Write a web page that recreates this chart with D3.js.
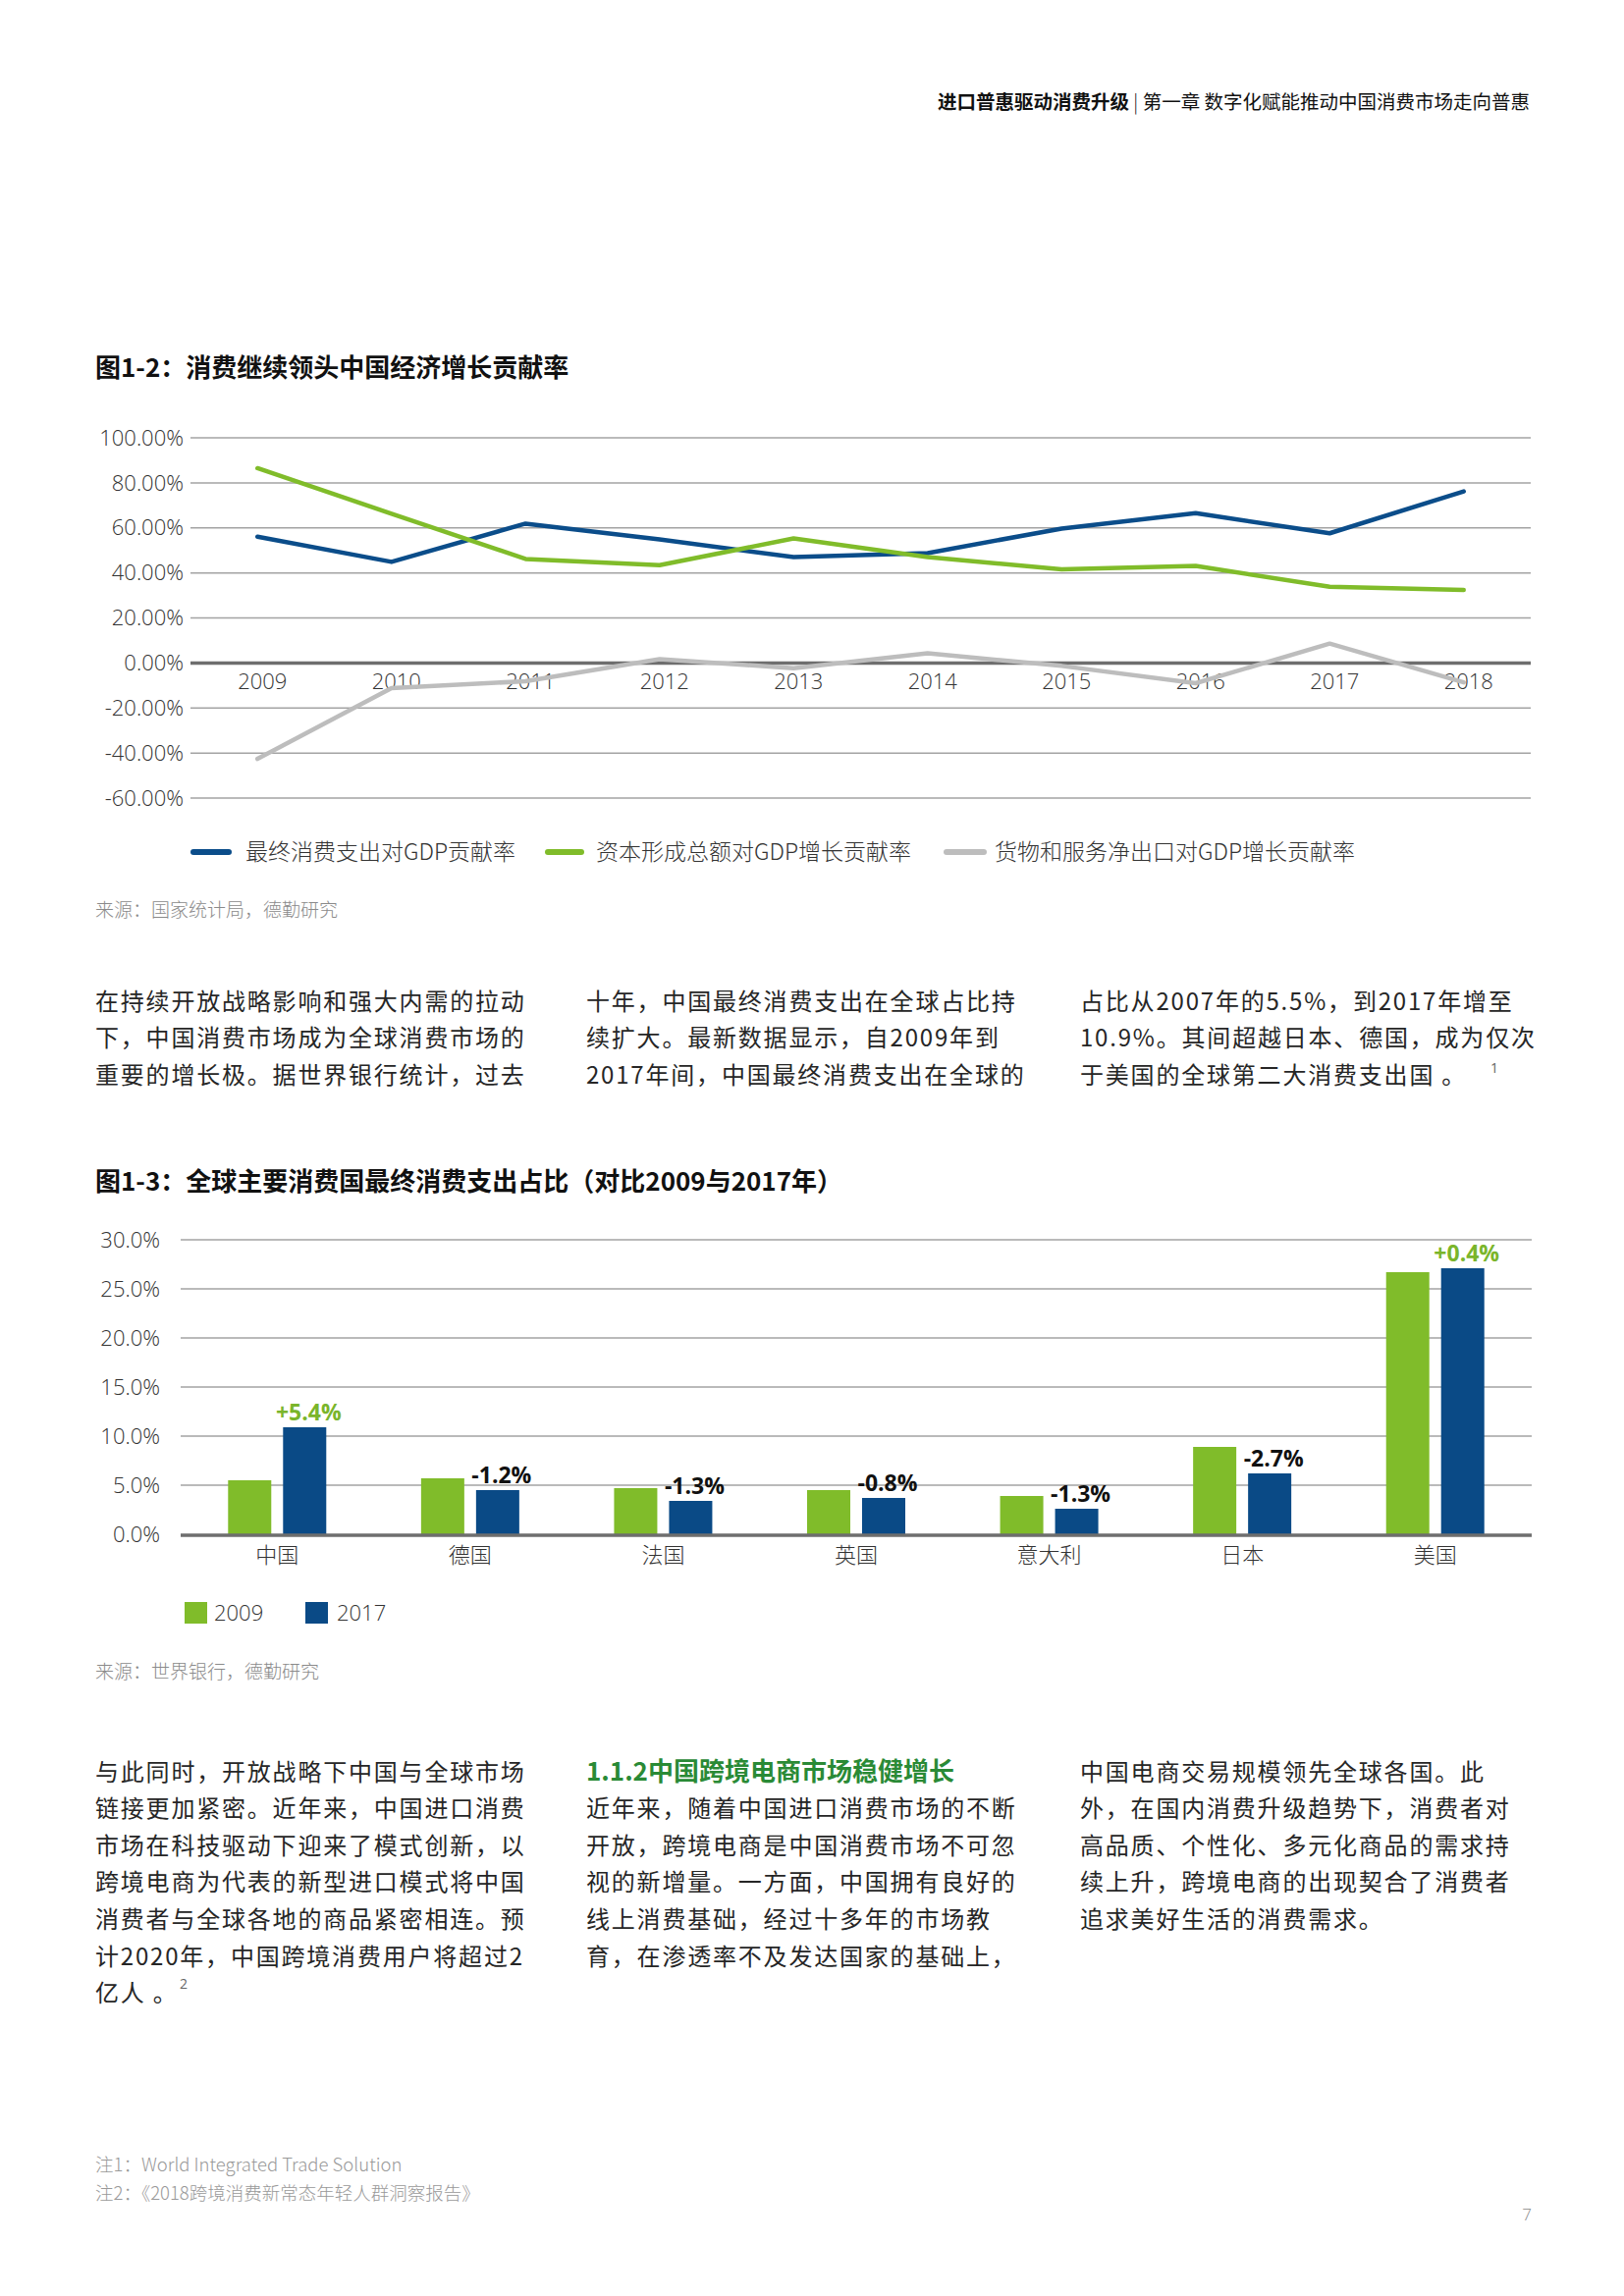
<!DOCTYPE html>
<html><head><meta charset="utf-8">
<script src="https://cdn.jsdelivr.net/npm/d3@7"></script>
<style>
html,body{margin:0;padding:0;background:#fff;}
svg{display:block;}
</style></head><body>
<svg id="page" width="1654" height="2339"></svg>
<script>
// ---------- DATA ----------
const years = ["2009","2010","2011","2012","2013","2014","2015","2016","2017","2018"];
const consumption = [56.1, 44.9, 61.9, 54.9, 47.0, 48.8, 59.7, 66.5, 57.6, 76.2];
const capital     = [86.5, 66.3, 46.2, 43.4, 55.3, 47.0, 41.6, 43.1, 33.8, 32.4];
const netExport   = [-42.6, -11.2, -8.1, 1.7, -2.3, 4.3, -1.3, -9.0, 8.6, -8.6];
const seriesNames1 = ["最终消费支出对GDP贡献率","资本形成总额对GDP增长贡献率","货物和服务净出口对GDP增长贡献率"];
const yTicks1 = [100, 80, 60, 40, 20, 0, -20, -40, -60];

const countries = ["中国","德国","法国","英国","意大利","日本","美国"];
const share2009 = [5.5, 5.7, 4.7, 4.5, 3.9, 8.9, 26.7];
const share2017 = [10.9, 4.5, 3.4, 3.7, 2.6, 6.2, 27.1];
const changeLabels = ["+5.4%","-1.2%","-1.3%","-0.8%","-1.3%","-2.7%","+0.4%"];
const barYears = ["2009","2017"];
const yTicks2 = [0, 5, 10, 15, 20, 25, 30];

const headerBold = "进口普惠驱动消费升级";
const headerRest = "第一章 数字化赋能推动中国消费市场走向普惠";
const title1 = "图1-2：消费继续领头中国经济增长贡献率";
const title2 = "图1-3：全球主要消费国最终消费支出占比（对比2009与2017年）";
const source1 = "来源：国家统计局，德勤研究";
const source2 = "来源：世界银行，德勤研究";
const para1 = [
  ["在持续开放战略影响和强大内需的拉动","下，中国消费市场成为全球消费市场的","重要的增长极。据世界银行统计，过去"],
  ["十年，中国最终消费支出在全球占比持","续扩大。最新数据显示，自2009年到","2017年间，中国最终消费支出在全球的"],
  ["占比从2007年的5.5%，到2017年增至","10.9%。其间超越日本、德国，成为仅次","于美国的全球第二大消费支出国 。"]
];
const para2 = [
  ["与此同时，开放战略下中国与全球市场","链接更加紧密。近年来，中国进口消费","市场在科技驱动下迎来了模式创新，以","跨境电商为代表的新型进口模式将中国","消费者与全球各地的商品紧密相连。预","计2020年，中国跨境消费用户将超过2","亿人 。"],
  ["近年来，随着中国进口消费市场的不断","开放，跨境电商是中国消费市场不可忽","视的新增量。一方面，中国拥有良好的","线上消费基础，经过十多年的市场教","育，在渗透率不及发达国家的基础上，"],
  ["中国电商交易规模领先全球各国。此","外，在国内消费升级趋势下，消费者对","高品质、个性化、多元化商品的需求持","续上升，跨境电商的出现契合了消费者","追求美好生活的消费需求。"]
];
const sectionHead = "1.1.2中国跨境电商市场稳健增长";
const notes = ["注1：World Integrated Trade Solution","注2：《2018跨境消费新常态年轻人群洞察报告》"];
const pageNo = "7";

// ---------- STYLE ----------
const CJK = '"Noto Sans CJK SC","Noto Sans",sans-serif';
const NUM = '"Open Sans","Noto Sans CJK SC",sans-serif';
const BLUE = "#0b4d8a", GREEN = "#80bc2a", GRAY = "#bdbdbd";
const GRID = "#a3a3a3", AXIS = "#6e6e6e", TXT = "#262626";

const svg = d3.select("#page");
svg.append("rect").attr("width",1654).attr("height",2339).attr("fill","#fff");

// header
const hdr = svg.append("text").attr("x",1558).attr("y",104).attr("dy","0.36em")
  .attr("text-anchor","end").style("font-family",CJK).style("font-size","19.5px").attr("fill","#111");
hdr.append("tspan").attr("font-weight",700).text(headerBold);
hdr.append("tspan").attr("font-weight",300).text(" | ");
hdr.append("tspan").attr("font-weight",400).text(headerRest);

function title(t, y){
  svg.append("text").attr("x",97).attr("y",y).attr("dy","0.36em")
    .style("font-family",CJK).style("font-size","26px").attr("font-weight",700).attr("fill","#111").text(t);
}
title(title1, 375);
title(title2, 1204);

// ---------- CHART 1 ----------
const x1 = d3.scalePoint().domain(years).range([194,1559]).padding(0.5);
const y1 = d3.scaleLinear().domain([-60,100]).range([813,446]);
const g1 = svg.append("g");
g1.selectAll("line.grid").data(yTicks1.filter(t=>t!==0)).join("line")
  .attr("x1",194).attr("x2",1559).attr("y1",d=>y1(d)).attr("y2",d=>y1(d))
  .attr("stroke",GRID).attr("stroke-width",1.5);
g1.append("line").attr("x1",194).attr("x2",1559).attr("y1",y1(0)).attr("y2",y1(0))
  .attr("stroke",AXIS).attr("stroke-width",3.5);
g1.selectAll("text.yl").data(yTicks1).join("text")
  .attr("x",187).attr("y",d=>y1(d)).attr("dy","0.35em").attr("text-anchor","end")
  .style("font-family",NUM).style("font-size","22px").attr("font-weight",300).attr("fill","#333")
  .text(d=>d.toFixed(2)+"%");
g1.selectAll("text.xl").data(years).join("text")
  .attr("x",d=>x1(d)+5).attr("y",694).attr("dy","0.35em").attr("text-anchor","middle")
  .style("font-family",NUM).style("font-size","22px").attr("font-weight",300).attr("fill","#333")
  .text(d=>d);
const series1 = [consumption, capital, netExport];
const colors1 = [BLUE, GREEN, GRAY];
const line1 = d3.line().x((d,i)=>x1(years[i])).y(d=>y1(d));
series1.forEach((s,k)=>{
  g1.append("path").attr("d",line1(s)).attr("fill","none").attr("stroke",colors1[k])
    .attr("stroke-width",4.5).attr("stroke-linejoin","round").attr("stroke-linecap","round");
});
// legend 1
const legX = [[197,233,250],[558,592,607],[964,1002,1013]];
seriesNames1.forEach((n,k)=>{
  g1.append("line").attr("x1",legX[k][0]).attr("x2",legX[k][1]).attr("y1",868).attr("y2",868)
    .attr("stroke",colors1[k]).attr("stroke-width",6).attr("stroke-linecap","round");
  g1.append("text").attr("x",legX[k][2]).attr("y",868).attr("dy","0.36em")
    .style("font-family",CJK).style("font-size","23px").attr("font-weight",300).attr("fill","#333").text(n);
});
function source(t,y){
  svg.append("text").attr("x",97).attr("y",y).attr("dy","0.36em")
    .style("font-family",CJK).style("font-size","19px").attr("font-weight",300).attr("fill","#8a8a8a").text(t);
}
source(source1, 927);

// ---------- PARAGRAPH 1 ----------
const colX = [97, 597, 1100];
function para(cols, y0){
  cols.forEach((lines,c)=>{
    lines.forEach((ln,i)=>{
      svg.append("text").attr("x",colX[c]).attr("y",y0+i*37.6).attr("dy","0.36em")
        .style("font-family",CJK).style("font-size","24px").style("letter-spacing","1.8px")
        .attr("font-weight",400).attr("fill",TXT).text(ln);
    });
  });
}
para(para1, 1020);
// superscript 1
svg.append("text").attr("x",1518).attr("y",1093).style("font-family",NUM).style("font-size","14px").attr("fill","#666").text("1");

// ---------- CHART 2 ----------
const x2 = d3.scaleBand().domain(countries).range([184,1560]);
const bw = x2.bandwidth();
const xs = d3.scaleBand().domain(barYears).range([bw/2-50, bw/2+50]).paddingInner(0.2143);
const y2 = d3.scaleLinear().domain([0,30]).range([1563,1263]);
const g2 = svg.append("g");
g2.selectAll("line.grid").data(yTicks2.filter(t=>t!==0)).join("line")
  .attr("x1",184).attr("x2",1560).attr("y1",d=>y2(d)).attr("y2",d=>y2(d))
  .attr("stroke",GRID).attr("stroke-width",1.5);
g2.selectAll("text.yl").data(yTicks2).join("text")
  .attr("x",163).attr("y",d=>y2(d)).attr("dy","0.35em").attr("text-anchor","end")
  .style("font-family",NUM).style("font-size","22px").attr("font-weight",300).attr("fill","#333")
  .text(d=>d.toFixed(1)+"%");
const barSeries = [share2009, share2017];
const barColors = [GREEN, "#0a4a86"];
barSeries.forEach((s,k)=>{
  g2.selectAll("rect.b"+k).data(s).join("rect")
    .attr("x",(d,i)=>x2(countries[i])+xs(barYears[k])).attr("width",xs.bandwidth())
    .attr("y",d=>y2(d)).attr("height",d=>y2(0)-y2(d)).attr("fill",barColors[k]);
});
g2.append("line").attr("x1",184).attr("x2",1560).attr("y1",y2(0)+1).attr("y2",y2(0)+1)
  .attr("stroke",AXIS).attr("stroke-width",3.5);
g2.selectAll("text.chg").data(changeLabels).join("text")
  .attr("x",(d,i)=>x2(countries[i])+xs("2017")+xs.bandwidth()/2+4)
  .attr("y",(d,i)=>y2(share2017[i])-7).attr("text-anchor","middle")
  .style("font-family",NUM).style("font-size","23px").attr("font-weight",700)
  .attr("fill",d=>d.startsWith("+")?"#7ab52b":"#111").text(d=>d);
g2.selectAll("text.xl").data(countries).join("text")
  .attr("x",d=>x2(d)+bw/2).attr("y",1584).attr("dy","0.36em").attr("text-anchor","middle")
  .style("font-family",CJK).style("font-size","22px").attr("font-weight",300).attr("fill","#333").text(d=>d);
// legend 2
const leg2 = [[188,218],[311,343]];
barYears.forEach((yv,k)=>{
  g2.append("rect").attr("x",leg2[k][0]).attr("y",1632).attr("width",23).attr("height",22).attr("fill",barColors[k]);
  g2.append("text").attr("x",leg2[k][1]).attr("y",1643).attr("dy","0.35em")
    .style("font-family",NUM).style("font-size","22px").attr("font-weight",300).attr("fill","#333").text(yv);
});
source(source2, 1703);

// ---------- BOTTOM TEXT ----------
svg.append("text").attr("x",colX[1]).attr("y",1805).attr("dy","0.36em")
  .style("font-family",CJK).style("font-size","26px").attr("font-weight",700).attr("fill","#2a8a36").text(sectionHead);
const p2 = [para2[0], [""].concat(para2[1]), para2[2]];
para(p2, 1805);
svg.append("text").attr("x",183).attr("y",2026).style("font-family",NUM).style("font-size","14px").attr("fill","#666").text("2");

// notes
notes.forEach((n,i)=>{
  svg.append("text").attr("x",97).attr("y",2205+i*29).attr("dy","0.36em")
    .style("font-family",CJK).style("font-size","18.5px").attr("font-weight",300).attr("fill","#999").text(n);
});
svg.append("text").attr("x",1555).attr("y",2256).attr("dy","0.36em").attr("text-anchor","middle")
  .style("font-family",NUM).style("font-size","17px").attr("font-weight",300).attr("fill","#888").text(pageNo);
</script>
</body></html>
